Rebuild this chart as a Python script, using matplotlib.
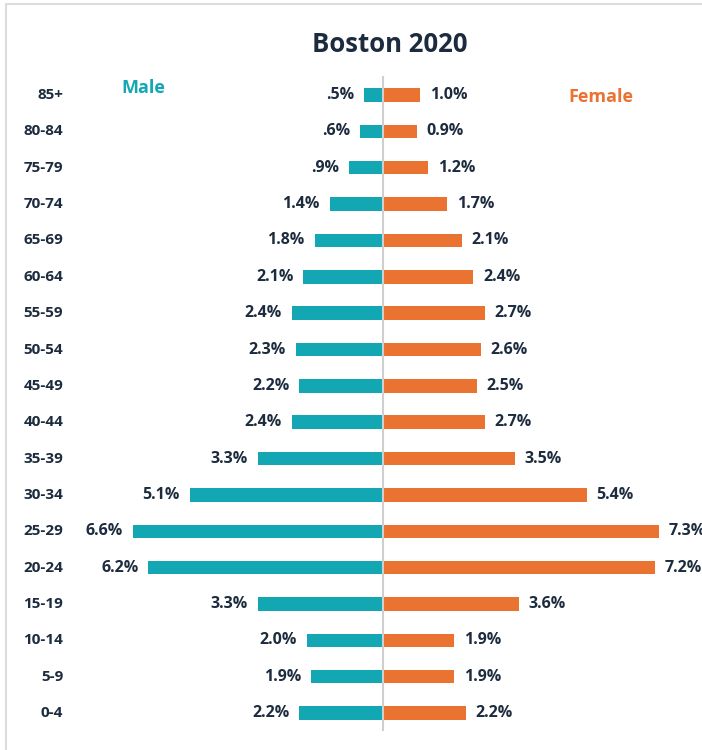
import matplotlib.pyplot as plt
from matplotlib.patches import Rectangle

# ── Données ─────────────────────────────────────────────
ages = ["85+", "80-84", "75-79", "70-74", "65-69", "60-64", "55-59", "50-54",
        "45-49", "40-44", "35-39", "30-34", "25-29", "20-24", "15-19",
        "10-14", "5-9", "0-4"]
male = [0.5, 0.6, 0.9, 1.4, 1.8, 2.1, 2.4, 2.3, 2.2, 2.4, 3.3, 5.1, 6.6,
        6.2, 3.3, 2.0, 1.9, 2.2]
female = [1.0, 0.9, 1.2, 1.7, 2.1, 2.4, 2.7, 2.6, 2.5, 2.7, 3.5, 5.4, 7.3,
          7.2, 3.6, 1.9, 1.9, 2.2]
male_lbl = [".5%", ".6%", ".9%", "1.4%", "1.8%", "2.1%", "2.4%", "2.3%",
            "2.2%", "2.4%", "3.3%", "5.1%", "6.6%", "6.2%", "3.3%", "2.0%",
            "1.9%", "2.2%"]
female_lbl = ["1.0%", "0.9%", "1.2%", "1.7%", "2.1%", "2.4%", "2.7%", "2.6%",
              "2.5%", "2.7%", "3.5%", "5.4%", "7.3%", "7.2%", "3.6%", "1.9%",
              "1.9%", "2.2%"]

TEAL = "#12A7B3"
ORANGE = "#EB7332"
NAVY = "#1C2B3D"

plt.rcParams["font.family"] = ["Open Sans", "DejaVu Sans"]

fig = plt.figure(figsize=(7.02, 7.5), dpi=100)
ax = fig.add_axes([0, 0, 1, 1])
ax.set_xlim(-10.12, 8.45)
ax.set_ylim(-1.018, 19.615)
ax.axis("off")

n = len(ages)
ypos = [n - 1 - i for i in range(n)]
h = 0.37

ax.barh(ypos, [-v for v in male], height=h, color=TEAL, zorder=2)
ax.barh(ypos, female, height=h, color=ORANGE, zorder=2)
ax.plot([0, 0], [-0.47, 17.5], color="#cfcfcf", lw=1.5, zorder=3)

off = 0.26
for y, a, m, f, ml, fl in zip(ypos, ages, male, female, male_lbl, female_lbl):
    ax.text(-8.45, y, a, ha="right", va="center", fontsize=11,
            fontweight="bold", color=NAVY)
    ax.text(-m - off, y, ml, ha="right", va="center", fontsize=11.5,
            fontweight="bold", color=NAVY)
    ax.text(f + off, y, fl, ha="left", va="center", fontsize=11.5,
            fontweight="bold", color=NAVY)

fig.text(390 / 702, 1 - 45 / 750, "Boston 2020", ha="center", va="center",
         fontsize=18.5, fontweight="bold", color=NAVY)
fig.text(143 / 702, 1 - 88 / 750, "Male", ha="center", va="center",
         fontsize=13, fontweight="bold", color=TEAL)
fig.text(601 / 702, 1 - 97 / 750, "Female", ha="center", va="center",
         fontsize=13, fontweight="bold", color=ORANGE)

# cadre gris clair (coupé à droite et en bas)
fig.patches.append(Rectangle((6 / 702, -0.1), 1.2, 1.1 - 4 / 750,
                             transform=fig.transFigure, fill=False,
                             edgecolor="#dcdcdc", lw=1.5))

fig.savefig("out.png", dpi=100)
